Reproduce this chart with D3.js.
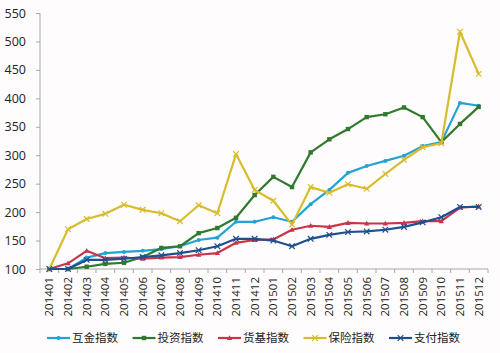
<!DOCTYPE html>
<html>
<head>
<meta charset="utf-8">
<script src="https://cdn.jsdelivr.net/npm/d3@7"></script>
<style>
  body { margin: 0; background: #fffcfd; }
  text { font-family: "Open Sans", "Noto Sans CJK SC", sans-serif; fill: #222; }
</style>
</head>
<body>
<svg id="chart"></svg>
<script>
const months = ["201401","201402","201403","201404","201405","201406","201407","201408","201409","201410","201411","201412",
                "201501","201502","201503","201504","201505","201506","201507","201508","201509","201510","201511","201512"];
const yTicks = [100, 150, 200, 250, 300, 350, 400, 450, 500, 550];

const hujin   = [100, 100, 120, 128, 130, 132, 135, 140, 151, 155, 183, 183, 191, 183, 214, 239, 269, 281, 290, 299, 316, 323, 392, 387];
const touzi   = [100, 100, 104, 109, 111, 121, 137, 140, 163, 172, 190, 230, 262, 244, 305, 328, 346, 367, 372, 384, 367, 323, 355, 385];
const huoji   = [100, 110, 132, 119, 120, 118, 120, 121, 125, 128, 146, 151, 152, 169, 176, 174, 181, 180, 180, 181, 184, 184, 208, 210];
const baoxian = [100, 170, 188, 197, 213, 204, 198, 184, 212, 198, 302, 239, 220, 178, 244, 234, 249, 241, 267, 292, 314, 321, 517, 443];
const zhifu   = [100, 100, 116, 116, 118, 121, 124, 128, 133, 140, 153, 153, 150, 140, 153, 160, 165, 166, 169, 174, 182, 191, 209, 209];

const seriesNames = ["互金指数", "投资指数", "货基指数", "保险指数", "支付指数"];
const seriesData = [hujin, touzi, huoji, baoxian, zhifu];
const colors = ["#21a3d6", "#2f7a2c", "#c8344a", "#d8bc2c", "#1f4f8f"];
const markers = ["circle", "square", "triangle", "x", "x"];

const width = 500, height = 353;
const svg = d3.select("#chart").attr("width", width).attr("height", height);

// scales
const x = d3.scaleBand().domain(months).range([40, 488]);
const y = d3.scaleLinear().domain([100, 550]).range([269, 13]);

// y axis
const yAxis = svg.append("g")
    .attr("transform", "translate(40,0)")
    .call(d3.axisLeft(y).tickValues(yTicks).tickSize(4).tickPadding(10));
yAxis.selectAll("line, path").attr("stroke", "#a8a8a8");
yAxis.select(".domain").attr("d", "M0," + y(550) + "V" + y(100));
yAxis.selectAll("text").style("font-size", "12.5px").attr("fill", "#222");

// x axis
const xAxis = svg.append("g")
    .attr("transform", "translate(0,269)")
    .call(d3.axisBottom(x).tickSize(0).tickPadding(0));
xAxis.select(".domain").attr("stroke", "#a8a8a8").attr("d", "M40,0H488");
xAxis.selectAll("text")
    .style("font-size", "11.5px")
    .attr("text-anchor", "end")
    .attr("dy", null)
    .attr("transform", "translate(4,8) rotate(-90)");
// band boundary ticks
xAxis.selectAll(".btick")
    .data(months.concat(["end"]))
    .enter().append("line")
    .attr("x1", (d, i) => i < months.length ? x(d) : x.range()[1])
    .attr("x2", (d, i) => i < months.length ? x(d) : x.range()[1])
    .attr("y1", 0).attr("y2", 4)
    .attr("stroke", "#a8a8a8");

const cx = d => x(d) + x.bandwidth() / 2;

function drawMarker(g, type, color) {
    if (type === "circle") {
        g.append("circle").attr("r", 2).attr("fill", color);
    } else if (type === "square") {
        g.append("rect").attr("x", -2.2).attr("y", -2.2).attr("width", 4.4).attr("height", 4.4).attr("fill", color);
    } else if (type === "triangle") {
        g.append("path").attr("d", "M0,-2.8L2.6,2L-2.6,2Z").attr("fill", color);
    } else {
        g.append("path").attr("d", "M-2.8,-2.8L2.8,2.8M2.8,-2.8L-2.8,2.8")
            .attr("stroke", color).attr("stroke-width", 1.2).attr("fill", "none");
    }
}

const line = d3.line().x((d, i) => cx(months[i])).y(d => y(d));

seriesData.forEach((vals, si) => {
    const g = svg.append("g");
    g.append("path")
        .datum(vals)
        .attr("d", line)
        .attr("fill", "none")
        .attr("stroke", colors[si])
        .attr("stroke-width", 2.2)
        .attr("stroke-linejoin", "round");
    g.selectAll(".pt")
        .data(vals)
        .enter().append("g")
        .attr("transform", (d, i) => `translate(${cx(months[i])},${y(d)})`)
        .each(function () { drawMarker(d3.select(this), markers[si], colors[si]); });
});

// legend
const legend = svg.append("g").attr("transform", "translate(47,338)");
seriesNames.forEach((name, i) => {
    const lg = legend.append("g").attr("transform", `translate(${i * 85.5},0)`);
    lg.append("line").attr("x1", 0).attr("x2", 23).attr("y1", 0).attr("y2", 0)
        .attr("stroke", colors[i]).attr("stroke-width", 2.2);
    const m = lg.append("g").attr("transform", "translate(11.5,0)");
    drawMarker(m, markers[i], colors[i]);
    lg.append("text").attr("x", 25).attr("y", 0).attr("dy", "0.36em")
        .style("font-size", "11.5px").style("font-family", "'Noto Sans CJK SC', sans-serif")
        .text(name);
});
</script>
</body>
</html>
